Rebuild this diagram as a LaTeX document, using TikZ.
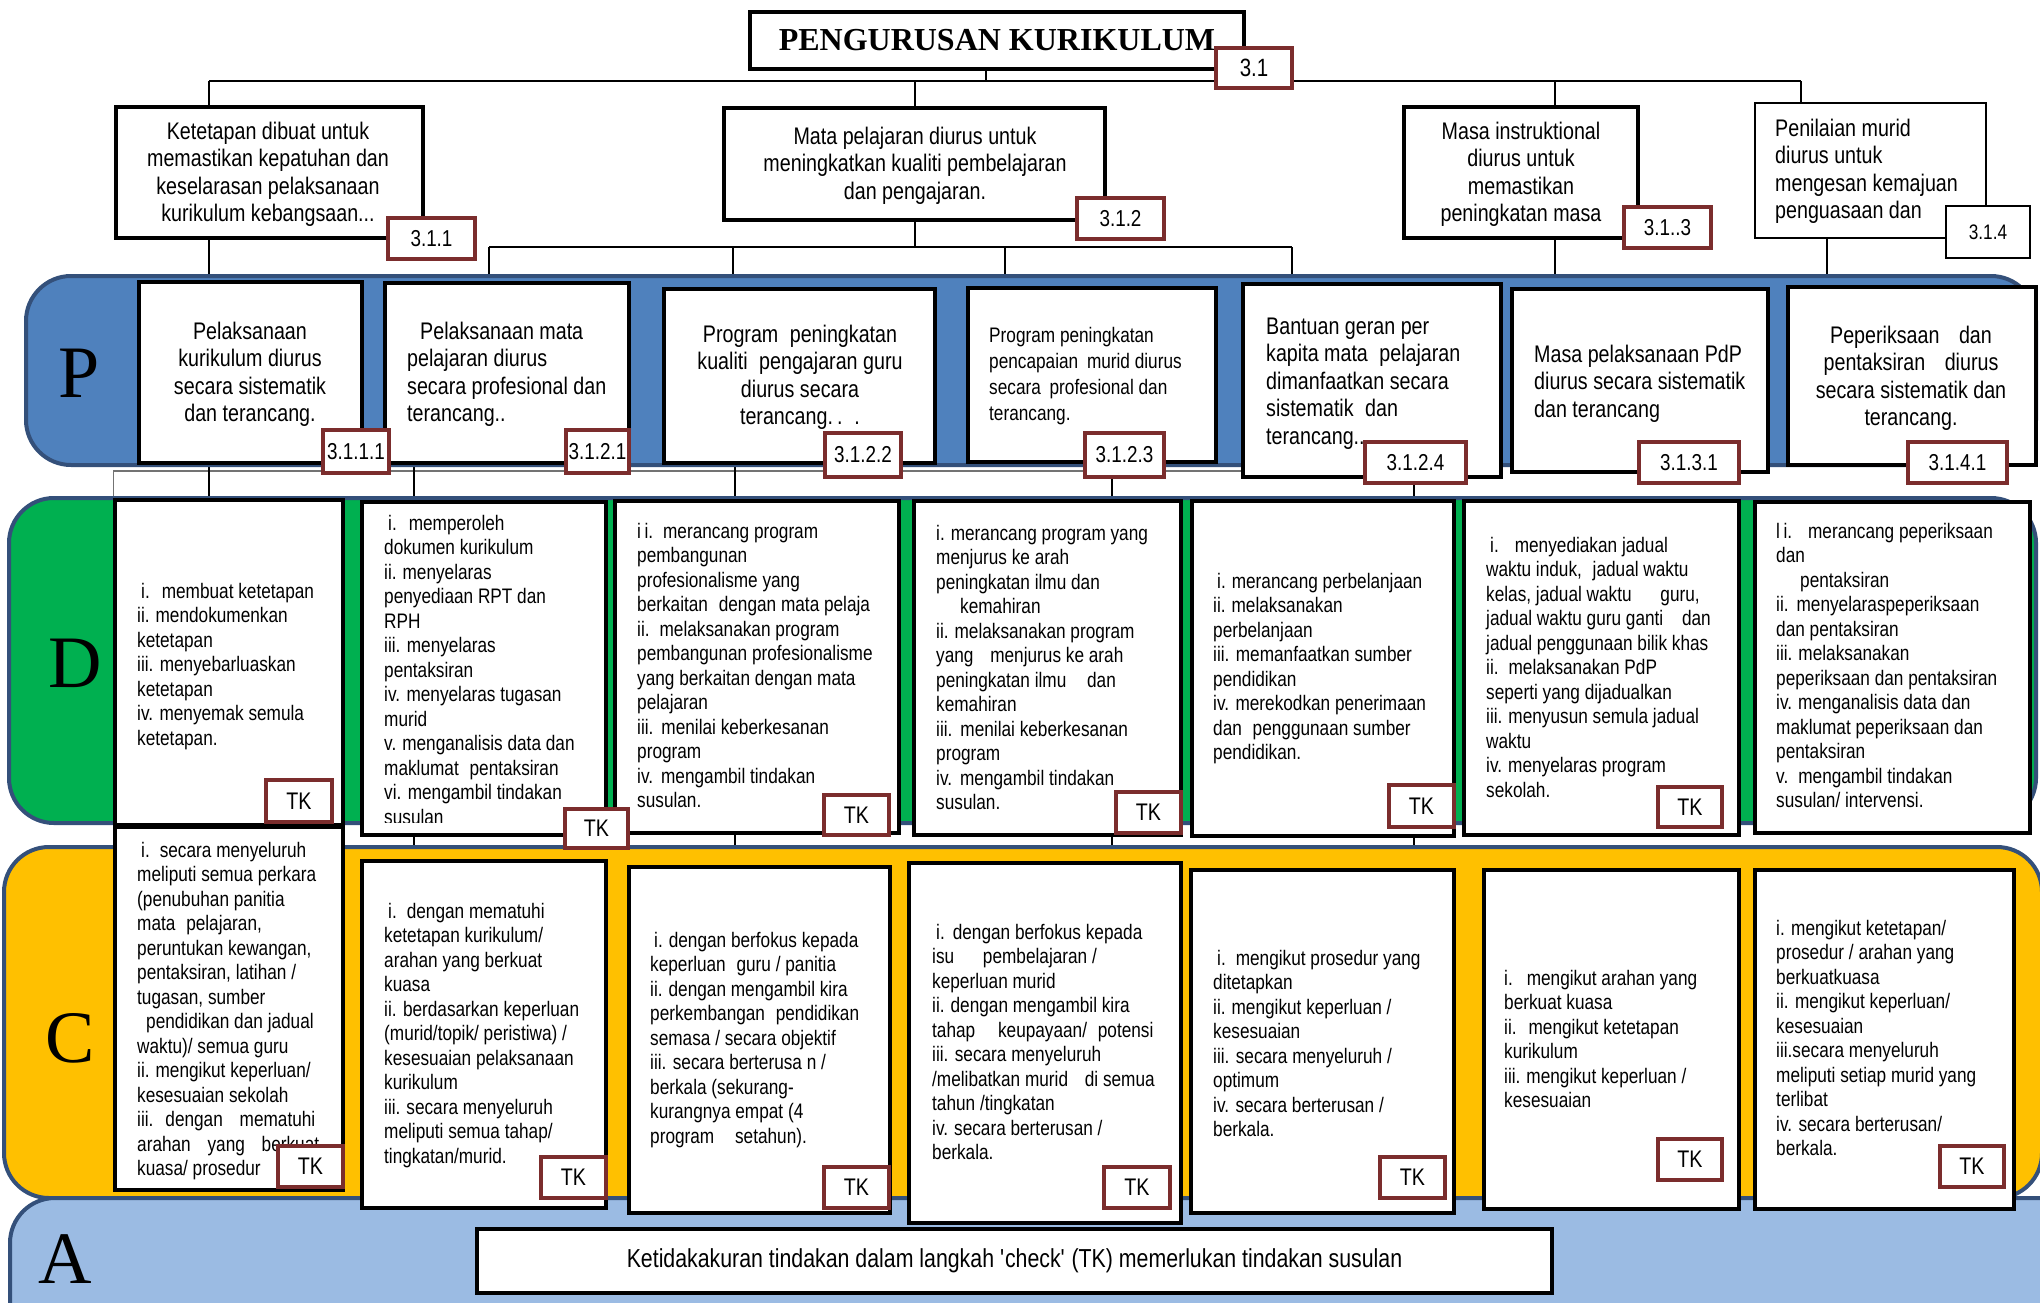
\documentclass[tikz,border=0pt]{standalone}
\usepackage{fontspec}
\setmainfont{Liberation Sans}[FakeStretch=0.82]
\newfontfamily\romanfont{Liberation Serif}
\usetikzlibrary{calc}
\pgfdeclarelayer{links}
\pgfdeclarelayer{bands}
\pgfsetlayers{links,bands,main}

\definecolor{bandP}{HTML}{4F81BD}
\definecolor{bandD}{HTML}{00B050}
\definecolor{bandC}{HTML}{FFC000}
\definecolor{bandA}{HTML}{9BBBE3}
\definecolor{bandline}{HTML}{34507A}
\definecolor{tagred}{HTML}{7B2D2D}

\tikzset{
  band/.style={draw=bandline,line width=4pt,rounded corners=45pt},
  box/.style={draw=black,fill=white,line width=3.5pt,inner sep=0pt},
  tag/.style={draw=tagred,fill=white,line width=3.5pt,inner sep=0pt,font=\fontsize{23}{23}\selectfont},
  tk/.style={font=\fontsize{24}{24}\selectfont},
  link/.style={black,line width=2pt},
  guide/.style={black!55,line width=1.2pt},
  bigtext/.style={inner sep=0pt,font=\fontsize{24}{27.5}\selectfont},
  midtext/.style={inner sep=0pt,font=\fontsize{21}{26}\selectfont},
  smalltext/.style={inner sep=0pt,font=\fontsize{21}{24.5}\selectfont,anchor=north west,align=left},
  letter/.style={inner sep=0pt,anchor=base,font=\romanfont\fontsize{74}{74}\selectfont},
}

% box from corner (x1,y1) to (x2,y2)
\newcommand\boxnode[6]{\node[#2,minimum width={#5-#3},minimum height={#6-#4}] (#1) at ({(#3+#5)/2},{(#4+#6)/2}) {};}
% numbered tag from corner (x1,y1) to (x2,y2)
\newcommand\tagnode[7][]{\node[tag,#1,minimum width={#5-#3},minimum height={#6-#4}] (#2) at ({(#3+#5)/2},{(#4+#6)/2}) {#7};}

\begin{document}
\begin{tikzpicture}[x=1pt,y=-1pt]
\useasboundingbox (0,0) rectangle (2040,1302);

% ---------- PDCA bands ----------
\begin{pgfonlayer}{bands}
\draw[band,fill=bandP] (26,276) rectangle (2036,465);
\draw[band,fill=bandD] (9,498) rectangle (2036,823);
\draw[band,fill=bandC] (4,847) rectangle (2042,1198);
\draw[band,fill=bandA] (10,1198) rectangle (2090,1350);
\end{pgfonlayer}

\node[letter] (lp) at (79,397) {P};
\node[letter] (ld) at (75,687) {D};
\node[letter] (lc) at (70,1062) {C};
\node[letter] (la) at (65,1283) {A};

% ---------- title ----------
\node[box,line width=4pt,minimum width=494,minimum height=57,
      font=\romanfont\bfseries\fontsize{32}{32}\selectfont] (title) at (997,40) {PENGURUSAN KURIKULUM};
\tagnode[font=\fontsize{25}{25}\selectfont]{g31}{1216}{48}{1292}{88}{3.1}

% ---------- level 3.1.x ----------
\boxnode{n311}{box,line width=4pt}{116}{107}{423}{238}
\boxnode{n312}{box,line width=4pt}{724}{108}{1105}{220}
\boxnode{n313}{box,line width=4pt}{1404}{107}{1638}{238}
\boxnode{n314}{box,line width=2pt}{1755}{103}{1986}{238}

\node[bigtext,anchor=north,align=center] (t311) at (268,{139-19.25})
  {\strut Ketetapan dibuat untuk\\memastikan kepatuhan dan\\keselarasan pelaksanaan\\kurikulum kebangsaan...};
\node[bigtext,anchor=north,align=center] (t312) at (915,{144-19.25})
  {\strut Mata pelajaran diurus untuk\\meningkatkan kualiti pembelajaran\\dan pengajaran.};
\node[bigtext,anchor=north,align=center] (t313) at (1521,{139-19.25})
  {\strut Masa instruktional\\diurus untuk\\memastikan\\peningkatan masa};
\node[bigtext,anchor=north west,align=left] (t314) at (1775,{136-19.25})
  {\strut Penilaian murid\\diurus untuk\\mengesan kemajuan\\penguasaan dan};

\tagnode{g311}{388}{218}{475}{259}{3.1.1}
\tagnode{g312}{1077}{198}{1164}{239}{3.1.2}
\tagnode{g313}{1624}{207}{1711}{248}{3.1..3}
\tagnode[draw=black,line width=2pt,font=\fontsize{21}{21}\selectfont]{g314}{1946}{206}{2030}{258}{3.1.4}

% ---------- P row ----------
\boxnode{p1}{box,line width=4pt}{139}{282}{362}{463}
\boxnode{p2}{box,line width=4pt}{385}{283}{629}{463}
\boxnode{p3}{box,line width=4pt}{664}{289}{935}{463}
\boxnode{p4}{box,line width=4pt}{968}{288}{1216}{462}
\boxnode{p5}{box,line width=4pt}{1243}{284}{1501}{477}
\boxnode{p6}{box,line width=4pt}{1512}{289}{1768}{472}
\boxnode{p7}{box,line width=4pt}{1788}{287}{2036}{465}

\node[bigtext,anchor=north,align=center] (tp1) at (250,{339-19.25})
  {\strut Pelaksanaan\\kurikulum diurus\\secara sistematik\\dan terancang.};
\node[bigtext,anchor=north west,align=left] (tp2) at (407,{339-19.25})
  {\strut\hspace*{13pt}Pelaksanaan mata\\pelajaran diurus\\secara profesional dan\\terancang..};
\node[bigtext,anchor=north,align=center] (tp3) at (800,{342-19.25})
  {\strut Program\hspace*{6pt} peningkatan\\kualiti\hspace*{6pt} pengajaran guru\\diurus secara\\terancang.\hspace*{4pt}.\hspace*{12pt}.};
\node[midtext,anchor=north west,align=left] (tp4) at (989,{342-18.2})
  {\strut Program peningkatan\\pencapaian\hspace*{4pt} murid diurus\\secara\hspace*{4pt} profesional dan\\terancang.};
\node[bigtext,anchor=north west,align=left] (tp5) at (1266,{334-19.25})
  {\strut Bantuan geran per\\kapita mata\hspace*{6pt} pelajaran\\dimanfaatkan secara\\sistematik\hspace*{6pt} dan\\terancang..};
\node[bigtext,anchor=north west,align=left] (tp6) at (1534,{362-19.25})
  {\strut Masa pelaksanaan PdP\\diurus secara sistematik\\dan terancang};
\node[bigtext,anchor=north,align=center] (tp7) at (1911,{343-19.25})
  {\strut Peperiksaan\hspace*{14pt} dan\\pentaksiran\hspace*{14pt} diurus\\secara sistematik dan\\terancang.};

\tagnode{g3111}{323}{430}{389}{473}{3.1.1.1}
\tagnode{g3121}{566}{430}{629}{473}{3.1.2.1}
\tagnode{g3122}{825}{433}{901}{477}{3.1.2.2}
\tagnode{g3123}{1085}{433}{1164}{477}{3.1.2.3}
\tagnode{g3124}{1365}{442}{1466}{483}{3.1.2.4}
\tagnode{g3131}{1639}{442}{1739}{483}{3.1.3.1}
\tagnode{g3141}{1908}{442}{2007}{483}{3.1.4.1}

% ---------- D row ----------
\boxnode{d1}{box}{115}{500}{343}{825}
\boxnode{d2}{box}{362}{502}{606}{835}
\boxnode{d3}{box}{615}{501}{899}{833}
\boxnode{d4}{box}{914}{501}{1181}{835}
\boxnode{d5}{box}{1192}{501}{1454}{836}
\boxnode{d6}{box}{1464}{501}{1739}{835}
\boxnode{d7}{box}{1755}{502}{2030}{833}

\node[smalltext] (td1) at (137,{598-17.15})
  {\strut\hspace*{4pt}i.\hspace*{12pt}membuat ketetapan\\ii.\hspace*{6pt}mendokumenkan\\ketetapan\\iii. menyebarluaskan\\ketetapan\\iv. menyemak semula\\ketetapan.};
\begin{scope}
\clip (364,504) rectangle (604,822);
\node[smalltext] (td2) at (384,{530-17.15})
  {\strut\hspace*{4pt}i.\hspace*{12pt}memperoleh\\dokumen kurikulum\\ii.\hspace*{6pt}menyelaras\\penyediaan RPT dan\\RPH\\iii. menyelaras\\pentaksiran\\iv. menyelaras tugasan\\murid\\v.\hspace*{6pt}menganalisis data dan\\maklumat\hspace*{6pt} pentaksiran\\vi. mengambil tindakan\\susulan};
\end{scope}
\node[smalltext] (td3) at (637,{538-17.15})
  {\strut i\,i.\hspace*{10pt}merancang program\\pembangunan\\profesionalisme yang\\berkaitan\hspace*{6pt} dengan mata pelaja\\ii.\hspace*{10pt}melaksanakan program\\pembangunan profesionalisme\\yang berkaitan dengan mata\\pelajaran\\iii.\hspace*{8pt}menilai keberkesanan\\program\\iv.\hspace*{8pt}mengambil tindakan\\susulan.};
\node[smalltext] (td4) at (936,{540-17.15})
  {\strut i.\hspace*{6pt}merancang program yang\\menjurus ke arah\\peningkatan ilmu dan\\\hspace*{24pt}kemahiran\\ii.\hspace*{6pt}melaksanakan program\\yang\hspace*{12pt} menjurus ke arah\\peningkatan ilmu\hspace*{16pt} dan\\kemahiran\\iii.\hspace*{8pt}menilai keberkesanan\\program\\iv.\hspace*{8pt}mengambil tindakan\\susulan.};
\node[smalltext] (td5) at (1213,{588-17.15})
  {\strut\hspace*{4pt}i.\hspace*{6pt}merancang perbelanjaan\\ii.\hspace*{6pt}melaksanakan\\perbelanjaan\\iii. memanfaatkan sumber\\pendidikan\\iv. merekodkan penerimaan\\dan\hspace*{6pt} penggunaan sumber\\pendidikan.};
\node[smalltext] (td6) at (1486,{552-17.15})
  {\strut\hspace*{4pt}i.\hspace*{16pt}menyediakan jadual\\waktu induk,\hspace*{6pt} jadual waktu\\kelas, jadual waktu\hspace*{24pt} guru,\\jadual waktu guru ganti\hspace*{14pt} dan\\jadual penggunaan bilik khas\\ii.\hspace*{10pt}melaksanakan PdP\\seperti yang dijadualkan\\iii.\hspace*{6pt}menyusun semula jadual\\waktu\\iv.\hspace*{6pt}menyelaras program\\sekolah.};
\node[smalltext] (td7) at (1776,{538-17.15})
  {\strut l\,i.\hspace*{16pt}merancang peperiksaan\\dan\\\hspace*{24pt}pentaksiran\\ii.\hspace*{8pt}menyelaraspeperiksaan\\dan pentaksiran\\iii.\hspace*{6pt}melaksanakan\\peperiksaan dan pentaksiran\\iv.\hspace*{6pt}menganalisis data dan\\maklumat peperiksaan dan\\pentaksiran\\v.\hspace*{10pt}mengambil tindakan\\susulan/ intervensi.};

\tagnode[tk]{kd1}{266}{780}{332}{822}{TK}
\tagnode[tk]{kd2}{565}{809}{628}{848}{TK}
\tagnode[tk]{kd3}{824}{795}{889}{835}{TK}
\tagnode[tk]{kd4}{1116}{792}{1181}{833}{TK}
\tagnode[tk]{kd5}{1389}{785}{1454}{827}{TK}
\tagnode[tk]{kd6}{1658}{787}{1722}{827}{TK}

% ---------- C row ----------
\boxnode{c1}{box}{115}{827}{343}{1190}
\boxnode{c2}{box}{362}{861}{606}{1208}
\boxnode{c3}{box}{629}{867}{890}{1213}
\boxnode{c4}{box}{909}{863}{1181}{1223}
\boxnode{c5}{box}{1191}{870}{1454}{1213}
\boxnode{c6}{box}{1484}{870}{1739}{1209}
\boxnode{c7}{box}{1755}{870}{2014}{1209}

\node[smalltext] (tc1) at (137,{857-17.15})
  {\strut\hspace*{4pt}i.\hspace*{10pt}secara menyeluruh\\meliputi semua perkara\\(penubuhan panitia\\mata\hspace*{6pt} pelajaran,\\peruntukan kewangan,\\pentaksiran, latihan /\\tugasan, sumber\\\hspace*{9pt}pendidikan dan jadual\\waktu)/ semua guru\\ii.\hspace*{6pt}mengikut keperluan/\\kesesuaian sekolah\\iii.\hspace*{12pt}dengan\hspace*{12pt} mematuhi\\arahan\hspace*{12pt} yang\hspace*{12pt} berkuat\\kuasa/ prosedur};
\node[smalltext] (tc2) at (384,{918-17.15})
  {\strut\hspace*{4pt}i.\hspace*{10pt}dengan mematuhi\\ketetapan kurikulum/\\arahan yang berkuat\\kuasa\\ii. berdasarkan keperluan\\(murid/topik/ peristiwa) /\\kesesuaian pelaksanaan\\kurikulum\\iii.\hspace*{6pt}secara menyeluruh\\meliputi semua tahap/\\tingkatan/murid.};
\node[smalltext] (tc3) at (650,{947-17.15})
  {\strut\hspace*{4pt}i.\hspace*{6pt}dengan berfokus kepada\\keperluan\hspace*{6pt} guru / panitia\\ii.\hspace*{6pt}dengan mengambil kira\\perkembangan\hspace*{6pt} pendidikan\\semasa / secara objektif\\iii. secara berterusa n /\\berkala (sekurang-\\kurangnya empat (4\\program\hspace*{16pt} setahun).};
\node[smalltext] (tc4) at (932,{939-17.15})
  {\strut\hspace*{4pt}i.\hspace*{8pt}dengan berfokus kepada\\isu\hspace*{24pt} pembelajaran /\\keperluan murid\\ii.\hspace*{6pt}dengan mengambil kira\\tahap\hspace*{18pt} keupayaan/\hspace*{6pt} potensi\\iii. secara menyeluruh\\/melibatkan murid\hspace*{12pt} di semua\\tahun /tingkatan\\iv.\hspace*{6pt}secara berterusan /\\berkala.};
\node[smalltext] (tc5) at (1213,{965-17.15})
  {\strut\hspace*{4pt}i.\hspace*{10pt}mengikut prosedur yang\\ditetapkan\\ii.\hspace*{6pt}mengikut keperluan /\\kesesuaian\\iii. secara menyeluruh /\\optimum\\iv. secara berterusan /\\berkala.};
\node[smalltext] (tc6) at (1504,{985-17.15})
  {\strut i.\hspace*{14pt}mengikut arahan yang\\berkuat kuasa\\ii.\hspace*{12pt}mengikut ketetapan\\kurikulum\\iii.\hspace*{6pt}mengikut keperluan /\\kesesuaian};
\node[smalltext] (tc7) at (1776,{935-17.15})
  {\strut i. mengikut ketetapan/\\prosedur / arahan yang\\berkuatkuasa\\ii. mengikut keperluan/\\kesesuaian\\iii.secara menyeluruh\\meliputi setiap murid yang\\terlibat\\iv. secara berterusan/\\berkala.};

\tagnode[tk]{kc1}{278}{1146}{343}{1187}{TK}
\tagnode[tk]{kc2}{541}{1157}{606}{1198}{TK}
\tagnode[tk]{kc3}{824}{1167}{889}{1208}{TK}
\tagnode[tk]{kc4}{1104}{1167}{1170}{1208}{TK}
\tagnode[tk]{kc5}{1380}{1157}{1445}{1198}{TK}
\tagnode[tk]{kc6}{1658}{1139}{1722}{1180}{TK}
\tagnode[tk]{kc7}{1940}{1146}{2004}{1187}{TK}

% ---------- A row ----------
\node[box,line width=4pt,minimum width=1075,minimum height=64,
      font=\fontsize{26}{26}\selectfont] (abox) at (1014.5,1261)
  {Ketidakakuran tindakan dalam langkah \textquotesingle check\textquotesingle\ (TK) memerlukan tindakan susulan};

% ---------- connectors ----------
\coordinate (busT) at (0,81);
\coordinate (busM) at (0,247);
\coordinate (busG) at (0,471);
\coordinate (xt) at (986,0);
\coordinate (xa) at (209,0);
\coordinate (xb) at (915,0);
\coordinate (xc) at (1555,0);
\coordinate (xd) at (1801,0);
\coordinate (xd2) at (1827,0);
\coordinate (xe) at (489,0);
\coordinate (xf) at (733,0);
\coordinate (xg) at (1005,0);
\coordinate (xh) at (1292,0);
\coordinate (xi) at (414,0);
\coordinate (xj) at (735,0);
\coordinate (xk) at (1112,0);
\coordinate (xl) at (1414,0);

\begin{pgfonlayer}{links}
% title to the four 3.1.x boxes
\draw[link] (xt |- title.south) -- (xt |- busT);
\draw[link] (xa |- busT) -- (xd |- busT);
\draw[link] (xa |- busT) -- (xa |- n311.north);
\draw[link] (xb |- busT) -- (xb |- n312.north);
\draw[link] (xc |- busT) -- (xc |- n313.north);
\draw[link] (xd |- busT) -- (xd |- n314.north);
% 3.1.2 to its four P boxes
\draw[link] (xb |- n312.south) -- (xb |- busM);
\draw[link] (xe |- busM) -- (xh |- busM);
\draw[link] (xe |- busM) -- (xe |- p2.north);
\draw[link] (xf |- busM) -- (xf |- p3.north);
\draw[link] (xg |- busM) -- (xg |- p4.north);
\draw[link] (xh |- busM) -- (xh |- p5.north);
% other 3.1.x boxes to their P boxes
\draw[link] (xa |- n311.south) -- (xa |- p1.north);
\draw[link] (xc |- n313.south) -- (xc |- p6.north);
\draw[link] (xd2 |- n314.south) -- (xd2 |- p7.north);
% P to D
\draw[guide] (d1.north west) |- (p5.west |- busG);
\draw[link] (xa |- p1.south) -- (xa |- d1.north);
\draw[link] (xi |- p2.south) -- (xi |- d2.north);
\draw[link] (xj |- p3.south) -- (xj |- d3.north);
\draw[link] (xk |- p4.south) -- (xk |- d4.north);
\draw[link] (xl |- p5.south) -- (xl |- d5.north);
% D to C
\draw[link] (xi |- d2.south) -- (xi |- c2.north);
\draw[link] (xj |- d3.south) -- (xj |- c3.north);
\draw[link] (xk |- d4.south) -- (xk |- c4.north);
\draw[link] (xl |- d5.south) -- (xl |- c5.north);
\end{pgfonlayer}
\end{tikzpicture}
\end{document}
